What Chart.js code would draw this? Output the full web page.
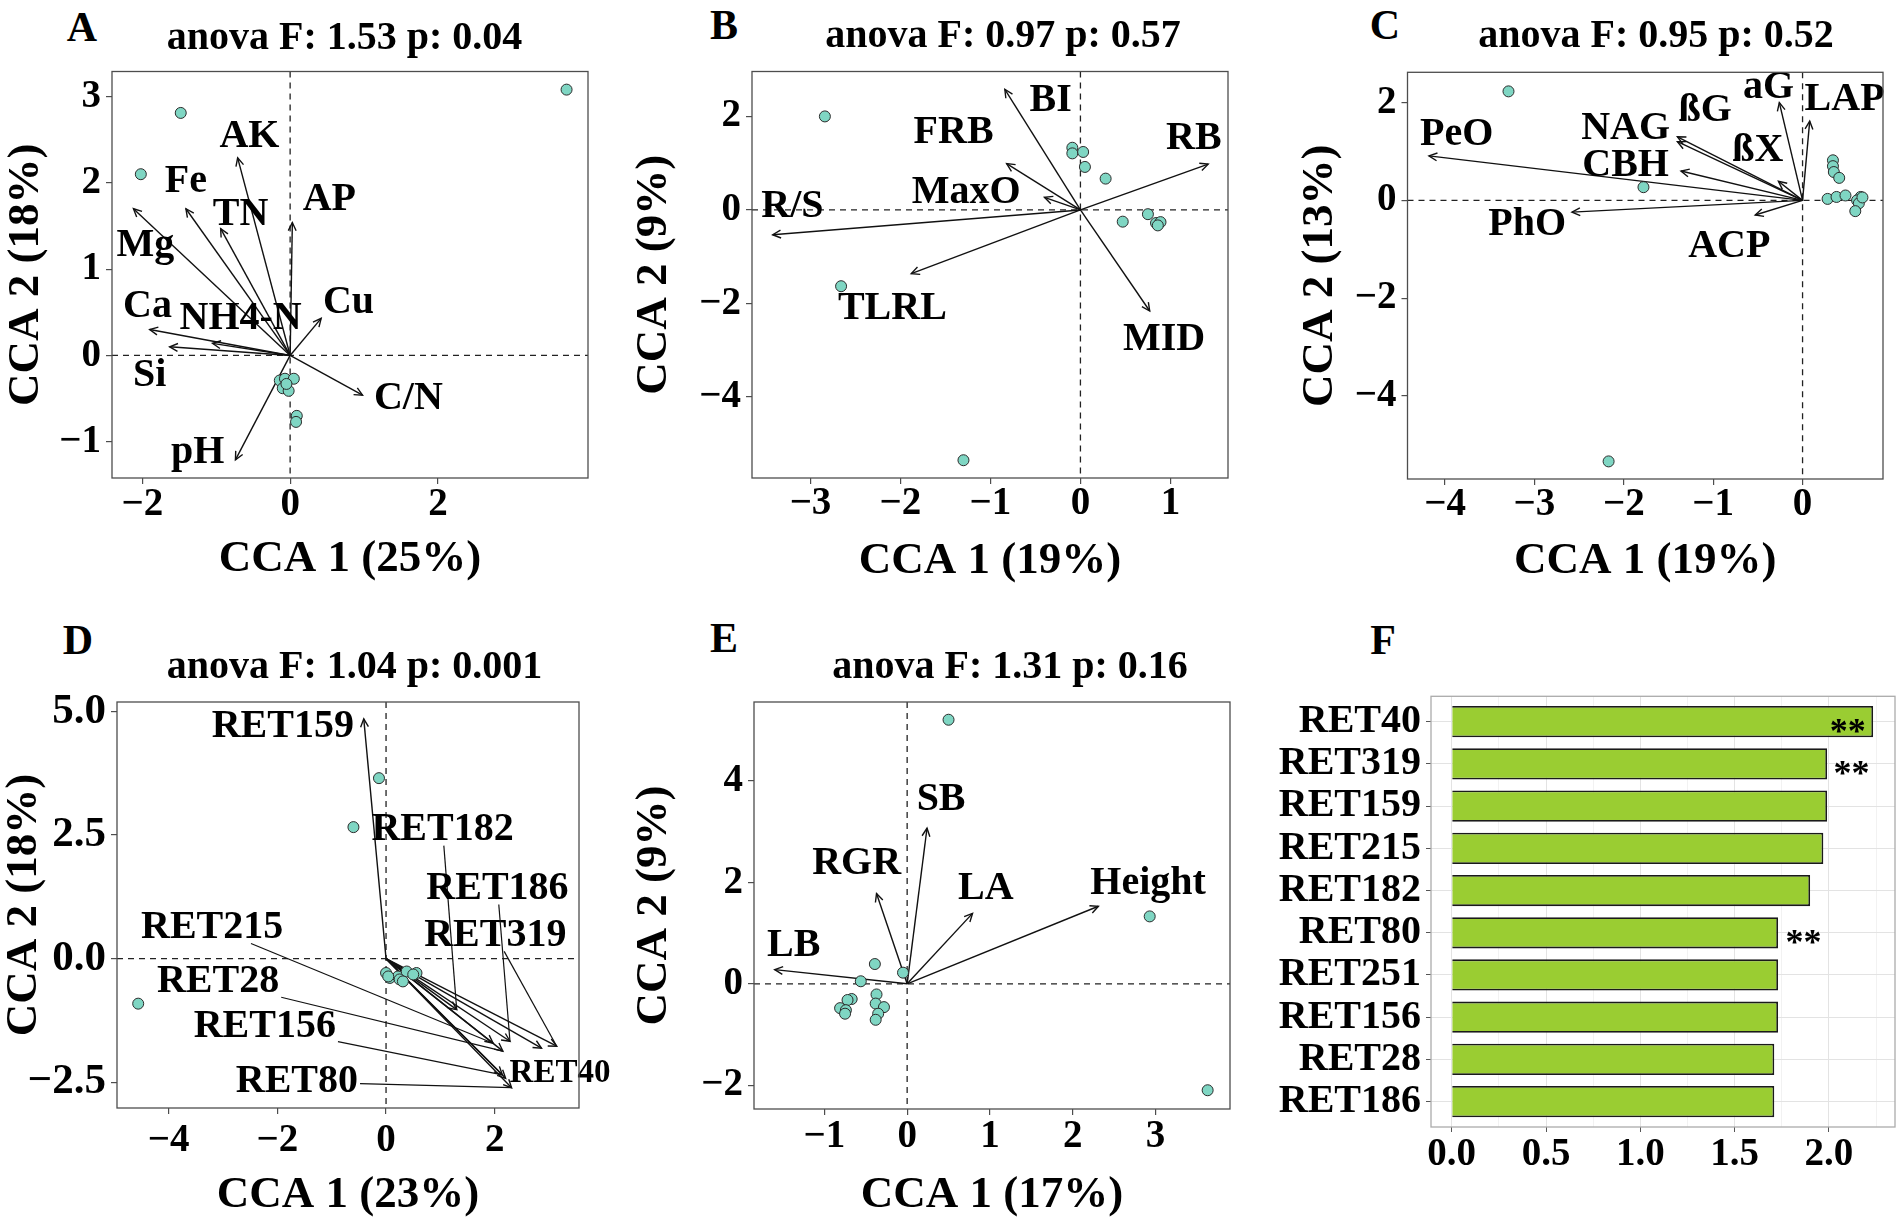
<!DOCTYPE html>
<html>
<head>
<meta charset="utf-8">
<script src="https://cdn.jsdelivr.net/npm/chart.js@4.4.1/dist/chart.umd.min.js"></script>
<style>
  html, body { margin: 0; padding: 0; background: #fff; overflow: hidden; }
  body { width: 1902px; height: 1226px; position: relative; font-family: "Liberation Serif", "Times New Roman", serif; }
  .letter { position: absolute; font-family: "Liberation Serif", serif; font-weight: bold; font-size: 42px; line-height: 1; transform: translate(-50%, -50%); }
</style>
</head>
<body>
<div class="letter" style="left:82px;top:27px">A</div>
<div class="letter" style="left:724px;top:25px">B</div>
<div class="letter" style="left:1385px;top:25px">C</div>
<div class="letter" style="left:78px;top:640px">D</div>
<div class="letter" style="left:724px;top:638px">E</div>
<div class="letter" style="left:1383px;top:640px">F</div>

<script>
// ---- panel A : soil properties ----
var aTitle = "anova F: 1.53 p: 0.04";
var aPointX = [3.74, -1.48, -2.02, -0.14, -0.07, 0.05, -0.10, -0.02, -0.05, 0.09, 0.08];
var aPointY = [3.08, 2.81, 2.10, -0.29, -0.27, -0.27, -0.38, -0.41, -0.33, -0.70, -0.77];
var aArrowNames = ["AK", "Fe", "TN", "Mg", "AP", "Cu", "C/N", "pH", "Ca", "Si", "NH4-N"];
var aArrowX = [-0.71, -1.41, -0.94, -2.12, 0.03, 0.42, 0.98, -0.74, -1.90, -1.63, -1.05];
var aArrowY = [2.29, 1.70, 1.47, 1.70, 1.54, 0.43, -0.46, -1.21, 0.30, 0.10, 0.14];
var aLabelX = [-0.55, -1.41, -0.67, -1.96, 0.53, 0.79, 1.60, -1.25, -1.93, -1.90, -0.67];
var aLabelY = [2.53, 2.01, 1.63, 1.27, 1.81, 0.61, -0.50, -1.13, 0.57, -0.23, 0.43];
var aXTicks = [-2, 0, 2];
var aYTicks = [-1, 0, 1, 2, 3];

// ---- panel B : root traits ----
var bTitle = "anova F: 0.97 p: 0.57";
var bPointX = [-2.84, -2.66, -1.30, -0.09, -0.09, 0.03, 0.05, 0.28, 0.47, 0.75, 0.84, 0.89, 0.86];
var bPointY = [2.00, -1.63, -5.35, 1.33, 1.21, 1.24, 0.92, 0.67, -0.25, -0.09, -0.28, -0.26, -0.33];
var bArrowNames = ["BI", "FRB", "MaxO", "R/S", "TLRL", "MID", "RB"];
var bArrowX = [-0.84, -0.82, -0.40, -3.42, -1.88, 0.77, 1.42];
var bArrowY = [2.58, 0.99, 0.27, -0.53, -1.36, -2.16, 0.98];
var bLabelX = [-0.33, -1.41, -1.27, -3.20, -2.09, 0.93, 1.26];
var bLabelY = [2.33, 1.66, 0.38, 0.06, -2.12, -2.78, 1.52];
var bXTicks = [-3, -2, -1, 0, 1];
var bYTicks = [-4, -2, 0, 2];

// ---- panel C : enzymes ----
var cTitle = "anova F: 0.95 p: 0.52";
var cPointX = [-3.29, -1.78, -2.17, 0.34, 0.34, 0.35, 0.41, 0.28, 0.38, 0.48, 0.65, 0.61, 0.63, 0.59, 0.67];
var cPointY = [2.23, 0.27, -5.34, 0.82, 0.70, 0.58, 0.46, 0.03, 0.07, 0.10, 0.07, 0.00, -0.06, -0.22, 0.06];
var cArrowNames = ["PeO", "NAG", "ßG", "CBH", "ßX", "aG", "LAP", "PhO", "ACP"];
var cArrowX = [-4.18, -1.40, -1.40, -1.36, -0.27, -0.26, 0.08, -2.58, -0.53];
var cArrowY = [0.91, 1.30, 1.20, 0.60, 0.39, 2.00, 1.62, -0.24, -0.30];
var cLabelX = [-3.87, -1.98, -1.09, -1.98, -0.50, -0.38, 0.47, -3.08, -0.82];
var cLabelY = [1.34, 1.46, 1.83, 0.70, 1.02, 2.30, 2.06, -0.50, -0.94];
var cXTicks = [-4, -3, -2, -1, 0];
var cYTicks = [-4, -2, 0, 2];

// ---- panel D : RET taxa ----
var dTitle = "anova F: 1.04 p: 0.001";
var dPointX = [-4.56, -0.13, -0.60, 0.00, 0.07, 0.22, 0.25, 0.38, 0.56, 0.50, 0.31, 0.04];
var dPointY = [-0.91, 3.65, 2.66, -0.29, -0.39, -0.36, -0.42, -0.26, -0.29, -0.32, -0.46, -0.36];
var dArrowNames = ["RET40", "RET319", "RET159", "RET215", "RET182", "RET80", "RET251", "RET156", "RET28", "RET186"];
var dArrowX = [2.20, 3.14, -0.41, 1.97, 1.30, 2.31, 2.86, 2.14, 2.15, 2.28];
var dArrowY = [-2.42, -1.77, 4.85, -1.71, -1.03, -2.61, -1.81, -2.35, -1.87, -1.67];
var dLabelX = [3.20, 2.01, -1.90, -3.20, 1.04, -1.64, null, -2.23, -3.09, 2.05];
var dLabelY = [-2.33, 0.47, 4.70, 0.63, 2.61, -2.49, null, -1.38, -0.47, 1.42];
var dXTicks = [-4, -2, 0, 2];
var dYTicks = [-2.5, 0, 2.5, 5];

// ---- panel E : growth traits ----
var eTitle = "anova F: 1.31 p: 0.16";
var ePointX = [0.50, 2.93, 3.63, -0.39, -0.05, -0.56, -0.67, -0.72, -0.81, -0.74, -0.75, -0.37, -0.38, -0.28, -0.35, -0.38];
var ePointY = [5.21, 1.33, -2.10, 0.39, 0.22, 0.05, -0.30, -0.32, -0.48, -0.52, -0.59, -0.21, -0.39, -0.46, -0.59, -0.71];
var eArrowNames = ["SB", "RGR", "LA", "Height", "LB"];
var eArrowX = [0.24, -0.37, 0.79, 2.31, -1.60];
var eArrowY = [3.07, 1.78, 1.39, 1.53, 0.28];
var eLabelX = [0.41, -0.61, 0.95, 2.91, -1.37];
var eLabelY = [3.63, 2.38, 1.88, 1.98, 0.76];
var eXTicks = [-1, 0, 1, 2, 3];
var eYTicks = [-2, 0, 2, 4];

// ---- panel F : importance bars ----
var fRets = ["RET40", "RET319", "RET159", "RET215", "RET182", "RET80", "RET251", "RET156", "RET28", "RET186"];
var fValues = [2.234, 1.99, 1.99, 1.97, 1.90, 1.73, 1.73, 1.73, 1.71, 1.71];
var fStars = ["**", "**", "", "", "", "**", "", "", "", ""];
var fStarX = [2.10, 2.12, null, null, null, 1.865, null, null, null, null];
var fXTicks = [0, 0.5, 1, 1.5, 2];
var fXMinor = [0.25, 0.75, 1.25, 1.75, 2.25];

var SERIF = '"Liberation Serif", "Times New Roman", serif';
Chart.defaults.font.family = SERIF;
Chart.defaults.font.weight = "bold";
Chart.defaults.color = "#000";

function fmt(v, dec) {
  var s = Math.abs(v).toFixed(dec);
  return v < 0 ? "\u2212" + s : s;
}

function makeCanvas(g) {
  var c = document.createElement("canvas");
  c.width = g.w;
  c.height = g.h;
  c.style.cssText = "position:absolute;left:" + g.left + "px;top:" + g.top + "px;width:" + g.w + "px;height:" + g.h + "px";
  document.body.appendChild(c);
  return c;
}

function drawHead(ctx, x0, y0, x1, y1) {
  var a = Math.atan2(y1 - y0, x1 - x0);
  var len = 9, spread = Math.PI / 7;
  ctx.beginPath();
  ctx.moveTo(x1 - len * Math.cos(a - spread), y1 - len * Math.sin(a - spread));
  ctx.lineTo(x1, y1);
  ctx.lineTo(x1 - len * Math.cos(a + spread), y1 - len * Math.sin(a + spread));
  ctx.stroke();
}

// zero lines, arrow heads, labels, leader lines and the panel box
function ccaPlugin(d) {
  return {
    id: "cca",
    beforeDatasetsDraw(chart) {
      var ctx = chart.ctx, a = chart.chartArea;
      var x0 = chart.scales.x.getPixelForValue(0);
      var y0 = chart.scales.y.getPixelForValue(0);
      ctx.save();
      ctx.strokeStyle = "#222";
      ctx.lineWidth = 1.3;
      ctx.setLineDash([6, 5]);
      ctx.beginPath();
      ctx.moveTo(x0, a.top); ctx.lineTo(x0, a.bottom);
      ctx.moveTo(a.left, y0); ctx.lineTo(a.right, y0);
      ctx.stroke();
      ctx.restore();
    },
    afterDatasetsDraw(chart) {
      var ctx = chart.ctx;
      var xs = chart.scales.x, ys = chart.scales.y;
      ctx.save();
      ctx.strokeStyle = "#111";
      ctx.lineWidth = 1.4;
      chart.data.datasets.forEach(function(ds, i) {
        if (!ds.arrow) return;
        var pts = chart.getDatasetMeta(i).data;
        drawHead(ctx, pts[0].x, pts[0].y, pts[1].x, pts[1].y);
      });

      d.names.forEach(function(name, i) {
        if (d.lx[i] == null) return;
        var size = (d.small && d.small[name]) || 40;
        ctx.font = "bold " + size + "px " + SERIF;
        var cx = xs.getPixelForValue(d.lx[i]);
        var cy = ys.getPixelForValue(d.ly[i]);
        if (d.leaders) {
          var tx = xs.getPixelForValue(d.ax[i]);
          var ty = ys.getPixelForValue(d.ay[i]);
          var hw = ctx.measureText(name).width / 2 + 2;
          var hh = size * 0.4;
          var dx = tx - cx, dy = ty - cy;
          var s = Math.min(dx ? hw / Math.abs(dx) : 1e9, dy ? hh / Math.abs(dy) : 1e9);
          var sx = cx + dx * s, sy = cy + dy * s;
          if (s < 1 && Math.hypot(tx - sx, ty - sy) > 25) {
            ctx.lineWidth = 1.2;
            ctx.beginPath();
            ctx.moveTo(sx, sy);
            ctx.lineTo(tx, ty);
            ctx.stroke();
          }
        }
        ctx.fillStyle = "#000";
        ctx.textAlign = "center";
        ctx.textBaseline = "middle";
        ctx.fillText(name, cx, cy);
      });
      ctx.restore();
    },
    afterDraw(chart) {
      var ctx = chart.ctx, a = chart.chartArea;
      ctx.save();
      ctx.strokeStyle = "#4d4d4d";
      ctx.lineWidth = 1.3;
      ctx.strokeRect(a.left, a.top, a.right - a.left, a.bottom - a.top);
      ctx.restore();
    }
  };
}

function ccaChart(g, d) {
  var datasets = [{
    data: d.px.map(function(x, i) { return { x: x, y: d.py[i] }; }),
    pointRadius: 5.5,
    backgroundColor: "#7fd6c3",
    borderColor: "#2b2b2b",
    borderWidth: 1,
    order: 0
  }];
  d.ax.forEach(function(x, i) {
    datasets.push({
      data: [{ x: 0, y: 0 }, { x: x, y: d.ay[i] }],
      showLine: true,
      borderColor: "#111",
      borderWidth: 1.4,
      pointRadius: 0,
      order: 1,
      arrow: true
    });
  });

  var tickFont = { size: 39, weight: "bold", lineHeight: 1 };
  return new Chart(makeCanvas(g), {
    type: "scatter",
    data: { datasets: datasets },
    options: {
      responsive: false,
      animation: false,
      devicePixelRatio: 1,
      events: [],
      layout: { padding: 0 },
      plugins: {
        legend: { display: false },
        tooltip: { enabled: false },
        title: {
          display: true, text: d.title, color: "#000",
          font: { size: 40, weight: "bold", lineHeight: 1 },
          padding: { top: g.tTop, bottom: g.tBottom }
        }
      },
      scales: {
        x: {
          type: "linear", position: "bottom", min: d.xMin, max: d.xMax,
          afterBuildTicks: function(s) { s.ticks = d.xTicks.map(function(v) { return { value: v }; }); },
          afterFit: function(s) { s.height = g.xH; s.paddingLeft = 0; s.paddingRight = 0; },
          grid: { drawOnChartArea: false, drawTicks: true, tickLength: 6, color: "#4d4d4d", lineWidth: 1.2 },
          border: { display: false },
          ticks: {
            font: tickFont, color: "#000", padding: g.xTickPad, maxRotation: 0, minRotation: 0, autoSkip: false,
            callback: function(v) { return fmt(v, d.xDec || 0); }
          },
          title: {
            display: true, text: d.xTitle, color: "#000",
            font: { size: 45, weight: "bold", lineHeight: 1 },
            padding: { top: 0, bottom: g.xTitlePad }
          }
        },
        y: {
          type: "linear", position: "left", min: d.yMin, max: d.yMax,
          afterBuildTicks: function(s) { s.ticks = d.yTicks.map(function(v) { return { value: v }; }); },
          afterFit: function(s) { s.width = g.yW; s.paddingTop = 0; s.paddingBottom = 0; },
          grid: { drawOnChartArea: false, drawTicks: true, tickLength: 6, color: "#4d4d4d", lineWidth: 1.2 },
          border: { display: false },
          ticks: {
            font: { size: d.yTickSize || 39, weight: "bold", lineHeight: 1 }, color: "#000", padding: 5, autoSkip: false,
            callback: function(v) { return fmt(v, d.yDec || 0); }
          },
          title: {
            display: true, text: d.yTitle, color: "#000",
            font: { size: 45, weight: "bold", lineHeight: 1 },
            padding: { top: g.yTitlePad, bottom: 0 }
          }
        },
        gap: {
          type: "linear", position: "right", display: true,
          ticks: { display: false }, grid: { display: false }, border: { display: false },
          afterFit: function(s) { s.width = g.gapR; }
        }
      }
    },
    plugins: [ccaPlugin(d)]
  });
}

ccaChart(
  { left: 0, top: 0, w: 689, h: 613, yW: 112, xH: 135, gapR: 101, tTop: 19, tBottom: 12.5, yTitlePad: 3.5, xTitlePad: 31, xTickPad: 1 },
  { title: aTitle, px: aPointX, py: aPointY, names: aArrowNames, ax: aArrowX, ay: aArrowY, lx: aLabelX, ly: aLabelY,
    xMin: -2.41, xMax: 4.03, yMin: -1.42, yMax: 3.29, xTicks: aXTicks, yTicks: aYTicks,
    xTitle: "CCA 1 (25%)", yTitle: "CCA 2 (18%)" }
);

ccaChart(
  { left: 620, top: 0, w: 766, h: 613, yW: 132, xH: 135, gapR: 158, tTop: 17, tBottom: 14.5, yTitlePad: 11.5, xTitlePad: 29.5, xTickPad: 0 },
  { title: bTitle, px: bPointX, py: bPointY, names: bArrowNames, ax: bArrowX, ay: bArrowY, lx: bLabelX, ly: bLabelY,
    xMin: -3.65, xMax: 1.64, yMin: -5.73, yMax: 2.96, xTicks: bXTicks, yTicks: bYTicks,
    xTitle: "CCA 1 (19%)", yTitle: "CCA 2 (9%)" }
);

ccaChart(
  { left: 1290, top: 0, w: 732, h: 613, yW: 117.5, xH: 134, gapR: 139, tTop: 17, tBottom: 15.3, yTitlePad: 8, xTitlePad: 29.5, xTickPad: 0 },
  { title: cTitle, px: cPointX, py: cPointY, names: cArrowNames, ax: cArrowX, ay: cArrowY, lx: cLabelX, ly: cLabelY,
    xMin: -4.42, xMax: 0.90, yMin: -5.70, yMax: 2.62, xTicks: cXTicks, yTicks: cYTicks,
    xTitle: "CCA 1 (19%)", yTitle: "CCA 2 (13%)" }
);

ccaChart(
  { left: 0, top: 613, w: 709, h: 613, yW: 117, xH: 118, gapR: 130, tTop: 34.7, tBottom: 14.3, yTitlePad: 1.8, xTitlePad: 8.5, xTickPad: 7 },
  { title: dTitle, px: dPointX, py: dPointY, names: dArrowNames, ax: dArrowX, ay: dArrowY, lx: dLabelX, ly: dLabelY,
    xMin: -4.95, xMax: 3.55, yMin: -3.02, yMax: 5.19, xTicks: dXTicks, yTicks: dYTicks, yDec: 1, yTickSize: 43,
    leaders: true, small: { RET40: 33 },
    xTitle: "CCA 1 (23%)", yTitle: "CCA 2 (18%)" }
);

ccaChart(
  { left: 620, top: 613, w: 780, h: 613, yW: 134, xH: 117, gapR: 170, tTop: 34.7, tBottom: 14.3, yTitlePad: 11.7, xTitlePad: 8.5, xTickPad: 2.3 },
  { title: eTitle, px: ePointX, py: ePointY, names: eArrowNames, ax: eArrowX, ay: eArrowY, lx: eLabelX, ly: eLabelY,
    xMin: -1.85, xMax: 3.90, yMin: -2.47, yMax: 5.56, xTicks: eXTicks, yTicks: eYTicks,
    xTitle: "CCA 1 (17%)", yTitle: "CCA 2 (9%)" }
);

// ---- panel F ----
function isMajor(v) {
  return fXTicks.some(function(t) { return Math.abs(t - v) < 1e-9; });
}

var fPlugin = {
  id: "fExtras",
  afterDatasetsDraw(chart) {
    var ctx = chart.ctx;
    var xs = chart.scales.x, ys = chart.scales.y;
    ctx.save();
    ctx.font = "bold 36px " + SERIF;
    ctx.fillStyle = "#000";
    ctx.textAlign = "center";
    ctx.textBaseline = "alphabetic";
    fStars.forEach(function(s, i) {
      if (!s) return;
      ctx.fillText(s, xs.getPixelForValue(fStarX[i]), ys.getPixelForValue(i) + 21);
    });
    ctx.restore();
  },
  afterDraw(chart) {
    var ctx = chart.ctx, a = chart.chartArea;
    ctx.save();
    ctx.strokeStyle = "#ababab";
    ctx.lineWidth = 1.3;
    ctx.strokeRect(a.left, a.top, a.right - a.left, a.bottom - a.top);
    ctx.restore();
  }
};

new Chart(makeCanvas({ left: 1268, top: 613, w: 634, h: 613 }), {
  type: "bar",
  data: {
    datasets: [{
      data: fValues.map(function(v, i) { return { x: v, y: i }; }),
      backgroundColor: "#9acd32",
      borderColor: "#1a1a1a",
      borderWidth: 1.8,
      barPercentage: 0.74,
      categoryPercentage: 1
    }]
  },
  options: {
    indexAxis: "y",
    responsive: false,
    animation: false,
    devicePixelRatio: 1,
    events: [],
    layout: { padding: { top: 83.3, right: 7, left: 0, bottom: 0 } },
    plugins: { legend: { display: false }, tooltip: { enabled: false } },
    scales: {
      x: {
        type: "linear", position: "bottom", min: -0.11, max: 2.35, offset: false,
        afterBuildTicks: function(s) {
          s.ticks = fXTicks.concat(fXMinor).sort(function(p, q) { return p - q; })
            .map(function(v) { return { value: v }; });
        },
        afterFit: function(s) { s.height = 99; s.paddingLeft = 0; s.paddingRight = 0; },
        grid: {
          offset: false, drawOnChartArea: true, drawTicks: true, tickLength: 5, lineWidth: 1,
          color: function(c) { return c.tick && isMajor(c.tick.value) ? "#e3e3e3" : "#f2f2f2"; },
          tickColor: function(c) { return c.tick && isMajor(c.tick.value) ? "#555" : "rgba(0,0,0,0)"; }
        },
        border: { display: false },
        ticks: {
          font: { size: 39, weight: "bold", lineHeight: 1 }, color: "#000", padding: 3,
          maxRotation: 0, minRotation: 0, autoSkip: false,
          callback: function(v) { return isMajor(v) ? fmt(v, 1) : ""; }
        }
      },
      y: {
        type: "linear", position: "left", min: -0.6, max: 9.6, reverse: true, offset: false,
        afterBuildTicks: function(s) { s.ticks = fRets.map(function(r, i) { return { value: i }; }); },
        afterFit: function(s) { s.width = 163; s.paddingTop = 0; s.paddingBottom = 0; },
        grid: { offset: false, drawOnChartArea: true, drawTicks: true, tickLength: 5, lineWidth: 1, color: "#e3e3e3", tickColor: "#555" },
        border: { display: false },
        ticks: {
          font: { size: 40, weight: "bold", lineHeight: 1 }, color: "#000", padding: 5, autoSkip: false,
          callback: function(v) { return fRets[v]; }
        }
      }
    }
  },
  plugins: [fPlugin]
});
</script>
</body>
</html>
